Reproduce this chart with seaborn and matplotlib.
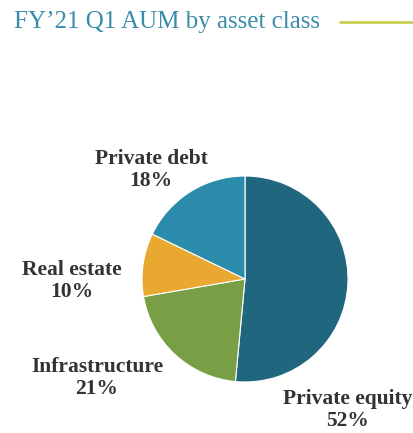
import matplotlib
matplotlib.use("Agg")
import matplotlib.pyplot as plt
import seaborn as sns

# AUM split by asset class, FY'21 Q1 (clockwise from 12 o'clock)
classes = ["Private equity", "Infrastructure", "Real estate", "Private debt"]
shares = [52, 21, 10, 18]
colors = ["#21667F", "#789F45", "#E9A82F", "#2A8BAA"]

# label anchor points in pixel space (x, y from top)
label_pos = [(348, 410), (97, 378), (72, 281), (151, 170)]

sns.set_style("white")
plt.rcParams["font.family"] = ["Liberation Serif", "DejaVu Serif"]

W, H = 414, 433
fig = plt.figure(figsize=(W / 100, H / 100), dpi=100)
ax = fig.add_axes([0, 0, 1, 1])
ax.set_xlim(0, W)
ax.set_ylim(0, H)
ax.set_aspect("equal")
ax.axis("off")

ax.pie(shares, colors=colors, startangle=90, counterclock=False,
       center=(245, H - 279), radius=103,
       wedgeprops=dict(edgecolor="white", linewidth=0.8))
ax.set_xlim(0, W)
ax.set_ylim(0, H)

for name, val, (x, y) in zip(classes, shares, label_pos):
    ax.text(x, H - y, f"{name}\n{val}%", ha="center", va="center",
            fontsize=15.5, fontweight="bold", color="#333333", linespacing=1.15)

ax.text(14, H - 22, "FY\u201921 Q1 AUM by asset class", ha="left", va="center",
        fontsize=18, color="#3A8DAA")
ax.plot([340, W], [H - 22, H - 22], color="#C9D052", linewidth=2)

fig.savefig("out.png", dpi=100)
